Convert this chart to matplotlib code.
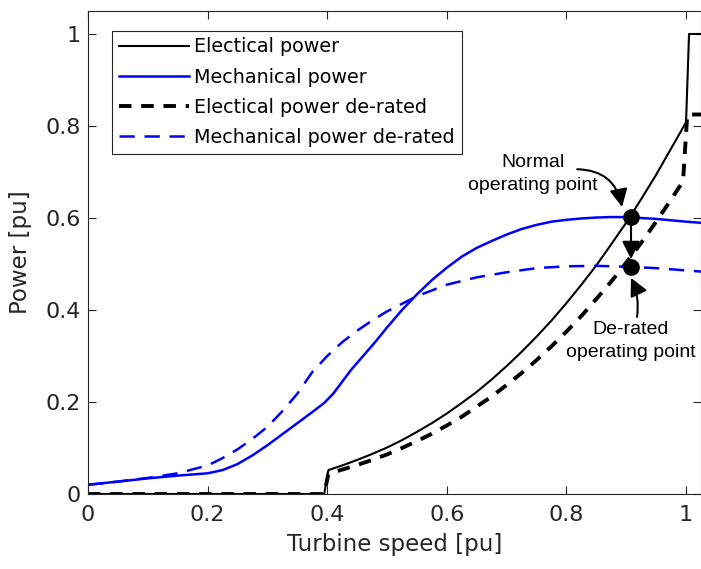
import numpy as np
import matplotlib
matplotlib.use('Agg')
import matplotlib.pyplot as plt

plt.rcParams['font.family'] = ['DejaVu Sans']
plt.rcParams['lines.scale_dashes'] = False

# Electrical power (normal)
speed_elec = [0, 0.395, 0.402, 0.425, 0.45, 0.475, 0.5, 0.525, 0.55, 0.575, 0.6, 0.625, 0.65, 0.675,
              0.7, 0.725, 0.75, 0.775, 0.8, 0.825, 0.85, 0.875, 0.9, 0.925, 0.95, 0.975, 1.0, 1.005, 1.03]
p_elec = [0, 0, 0.052, 0.062, 0.074, 0.087, 0.101, 0.117, 0.135, 0.154, 0.175, 0.198, 0.222, 0.249,
          0.278, 0.309, 0.342, 0.377, 0.415, 0.455, 0.497, 0.543, 0.590, 0.641, 0.694, 0.751, 0.808, 1.0, 1.0]

# Mechanical power (normal)
speed_mech = [0, 0.05, 0.1, 0.15, 0.2, 0.225, 0.25, 0.275, 0.3, 0.325, 0.35, 0.375, 0.395, 0.41, 0.425,
              0.44, 0.46, 0.48, 0.5, 0.525, 0.55, 0.575, 0.6, 0.625, 0.65, 0.675, 0.7, 0.725, 0.75,
              0.775, 0.8, 0.825, 0.85, 0.875, 0.9, 0.95, 1.0, 1.03]
p_mech = [0.020, 0.027, 0.034, 0.040, 0.045, 0.052, 0.065, 0.084, 0.106, 0.130, 0.154, 0.178, 0.198, 0.218, 0.244,
          0.270, 0.300, 0.330, 0.362, 0.400, 0.434, 0.465, 0.492, 0.516, 0.535, 0.550, 0.564, 0.576, 0.585,
          0.592, 0.596, 0.599, 0.601, 0.602, 0.602, 0.598, 0.592, 0.589]

# Electrical power (de-rated)
speed_elec_dr = [0, 0.395, 0.402, 0.425, 0.45, 0.475, 0.5, 0.525, 0.55, 0.575, 0.6, 0.625, 0.65, 0.675,
                 0.7, 0.725, 0.75, 0.775, 0.8, 0.825, 0.85, 0.875, 0.9, 0.925, 0.95, 0.975, 0.995, 1.002, 1.03]
p_elec_dr = [0, 0, 0.044, 0.053, 0.063, 0.074, 0.086, 0.100, 0.115, 0.131, 0.149, 0.168, 0.190, 0.212,
             0.237, 0.263, 0.291, 0.321, 0.353, 0.387, 0.424, 0.462, 0.503, 0.546, 0.592, 0.640, 0.680, 0.825, 0.825]

# Mechanical power (de-rated)
speed_mech_dr = [0, 0.05, 0.1, 0.15, 0.2, 0.225, 0.25, 0.275, 0.3, 0.325, 0.35, 0.375, 0.4, 0.425, 0.45,
                 0.475, 0.5, 0.55, 0.6, 0.65, 0.7, 0.75, 0.8, 0.85, 0.9, 0.95, 1.0, 1.03]
p_mech_dr = [0.020, 0.027, 0.035, 0.045, 0.062, 0.078, 0.097, 0.120, 0.146, 0.180, 0.218, 0.265, 0.300, 0.330, 0.355,
             0.377, 0.397, 0.430, 0.455, 0.471, 0.482, 0.491, 0.495, 0.496, 0.494, 0.491, 0.486, 0.483]

# operating points
op_speed = 0.908
op_normal = 0.602
op_derated = 0.494

xticks = [0, 0.2, 0.4, 0.6, 0.8, 1]
xtick_labels = ['0', '0.2', '0.4', '0.6', '0.8', '1']
yticks = [0, 0.2, 0.4, 0.6, 0.8, 1]
ytick_labels = ['0', '0.2', '0.4', '0.6', '0.8', '1']

fig = plt.figure(figsize=(7.01, 5.69), dpi=100)
ax = fig.add_axes([0.1255, 0.1318, 0.8745, 0.8489])

ax.plot(speed_elec, p_elec, color='k', lw=1.5, label='Electical power')
ax.plot(speed_mech, p_mech, color='#0000ff', lw=1.8, label='Mechanical power')
ax.plot(speed_elec_dr, p_elec_dr, color='k', lw=2.8, ls=(0, (9, 7)), label='Electical power de-rated')
ax.plot(speed_mech_dr, p_mech_dr, color='#0000ff', lw=1.8, ls=(0, (11, 7)), label='Mechanical power de-rated')

ax.plot([op_speed, op_speed], [op_normal, op_derated], 'o', color='k', ms=11, zorder=5)

arrow_kw = dict(arrowstyle='-|>,head_length=0.6,head_width=0.3', color='k', lw=1.5,
                mutation_scale=18, shrinkA=0)
ax.annotate('', xy=(op_speed, op_derated), xytext=(op_speed, op_normal),
            arrowprops=dict(arrow_kw, shrinkB=5.5), zorder=6)
ax.annotate('', xy=(0.893, 0.624), xytext=(0.818, 0.706),
            arrowprops=dict(arrow_kw, shrinkB=0, connectionstyle='arc3,rad=-0.4'), zorder=6)
ax.annotate('', xy=(0.908, 0.47), xytext=(0.918, 0.385),
            arrowprops=dict(arrow_kw, shrinkB=0, connectionstyle='arc3,rad=0.15'), zorder=6)

ax.text(0.744, 0.696, 'Normal\noperating point', ha='center', va='center', fontsize=14,
        family='Liberation Sans', linespacing=1.45)
ax.text(0.908, 0.333, 'De-rated\noperating point', ha='center', va='center', fontsize=14,
        family='Liberation Sans', linespacing=1.45)

ax.set_xlim(0, 1.025)
ax.set_ylim(0, 1.05)
ax.set_xticks(xticks)
ax.set_xticklabels(xtick_labels)
ax.set_yticks(yticks)
ax.set_yticklabels(ytick_labels)
ax.tick_params(direction='in', top=True, right=True, length=6, width=0.8,
               colors='#262626', labelsize=16)
ax.tick_params(axis='x', pad=8)
ax.tick_params(axis='y', pad=5)
for s in ax.spines.values():
    s.set_color('#262626')
    s.set_linewidth(0.8)

ax.set_xlabel('Turbine speed [pu]', fontsize=16.5, color='#262626', labelpad=6)
ax.set_ylabel('Power [pu]', fontsize=16.5, color='#262626', labelpad=10)

leg = ax.legend(loc='upper left', bbox_to_anchor=(0.039, 0.959), borderaxespad=0,
                fontsize=13.8, handlelength=3.65, handletextpad=0.3, labelspacing=0.58,
                fancybox=False, edgecolor='#262626', framealpha=1, borderpad=0.35)
leg.get_frame().set_linewidth(0.8)

fig.savefig('out.png', dpi=100)
